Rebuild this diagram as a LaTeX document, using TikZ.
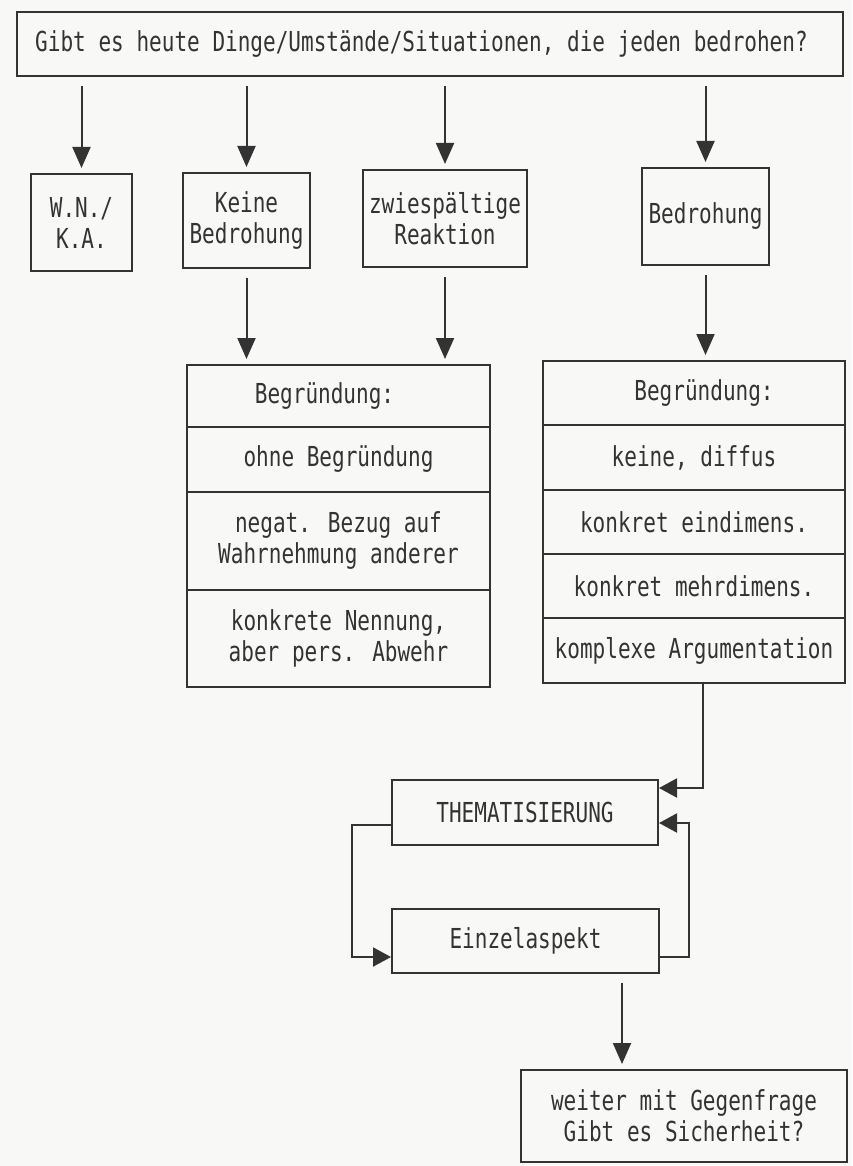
\documentclass[tikz,border=0pt]{standalone}
\usepackage{fontspec}
\newfontfamily\tw[FakeStretch=0.765]{DejaVu Sans Mono}
\usetikzlibrary{arrows.meta}
\definecolor{ink}{HTML}{333333}
\definecolor{paper}{HTML}{F8F8F6}
\begin{document}
\begin{tikzpicture}[x=1pt,y=-1pt,
  every node/.style={font=\tw\fontsize{27.5}{31}\selectfont, text=ink},
  box/.style={draw=ink, line width=2pt, rectangle, inner sep=0pt, align=center},
  arr/.style={draw=ink, line width=2pt, -{Triangle[width=18pt,length=21pt]}, shorten <=9pt, shorten >=5pt},
  loop/.style={draw=ink, line width=2pt, -{Triangle[width=19pt,length=18pt]}}]
\fill[paper] (0,0) rectangle (852,1166);
\useasboundingbox (0,0) rectangle (852,1166);

% top question
\node[box, minimum width=826, minimum height=64] (top) at (430,44)
  {\hspace*{-17pt}Gibt es heute Dinge/Umstände/Situationen, die jeden bedrohen?};

% second row
\node[box, minimum width=101, minimum height=97] (wn) at (81.5,222.5) {W.N./\\K.A.};
\node[box, minimum width=127, minimum height=95] (keine) at (246.5,220.5) {Keine\\Bedrohung};
\node[box, minimum width=164, minimum height=97] (zwie) at (445,218.5) {zwiespältige\\Reaktion};
\node[box, minimum width=127, minimum height=97] (bedr) at (705.5,216.5) {Bedrohung};

\foreach \n in {wn,keine,zwie,bedr}
  \draw[arr] (top.south -| \n.north) -- (\n.north);

% left stack
\node[box, minimum width=303, minimum height=62] (l0) at (338.5,396) {\hspace*{-28pt}Begründung:};
\node[box, minimum width=303, minimum height=65] (l1) at (338.5,459.5) {ohne Begründung};
\node[box, minimum width=303, minimum height=98] (l2) at (338.5,541) {negat. Bezug auf\\Wahrnehmung anderer};
\node[box, minimum width=303, minimum height=97] (l3) at (338.5,638.5) {konkrete Nennung,\\aber pers. Abwehr};

% right stack
\node[box, minimum width=302, minimum height=64] (r0) at (694,393) {\hspace*{20pt}Begründung:};
\node[box, minimum width=302, minimum height=65] (r1) at (694,457.5) {keine, diffus};
\node[box, minimum width=302, minimum height=64] (r2) at (694,522) {konkret eindimens.};
\node[box, minimum width=302, minimum height=64] (r3) at (694,586) {konkret mehrdimens.};
\node[box, minimum width=302, minimum height=65] (r4) at (694,650.5) {komplexe Argumentation};

\draw[arr] (keine.south) -- (keine.south |- l0.north);
\draw[arr] (zwie.south) -- (zwie.south |- l0.north);
\draw[arr] (bedr.south) -- (bedr.south |- r0.north);

% loop
\node[box, minimum width=266, minimum height=65] (them) at (525,812.5) {THEMATISIERUNG};
\node[box, minimum width=267, minimum height=64] (einz) at (525.5,941) {Einzelaspekt};

\draw[loop] ([xshift=9pt]r4.south) |- ([yshift=24.5pt]them.east);
\draw[loop] ([yshift=-12.5pt]them.west) -- ++(-39,0) |- ([yshift=-16pt]einz.west);
\draw[loop] ([yshift=-16pt]einz.east) -- ++(29,0) |- ([yshift=-10.5pt]them.east);

% final
\node[box, minimum width=326, minimum height=92] (fin) at (684,1116) {weiter mit Gegenfrage\\Gibt es Sicherheit?};
\draw[arr] ([xshift=96.5pt]einz.south) -- ([xshift=96.5pt]einz.south |- fin.north);
\end{tikzpicture}
\end{document}
